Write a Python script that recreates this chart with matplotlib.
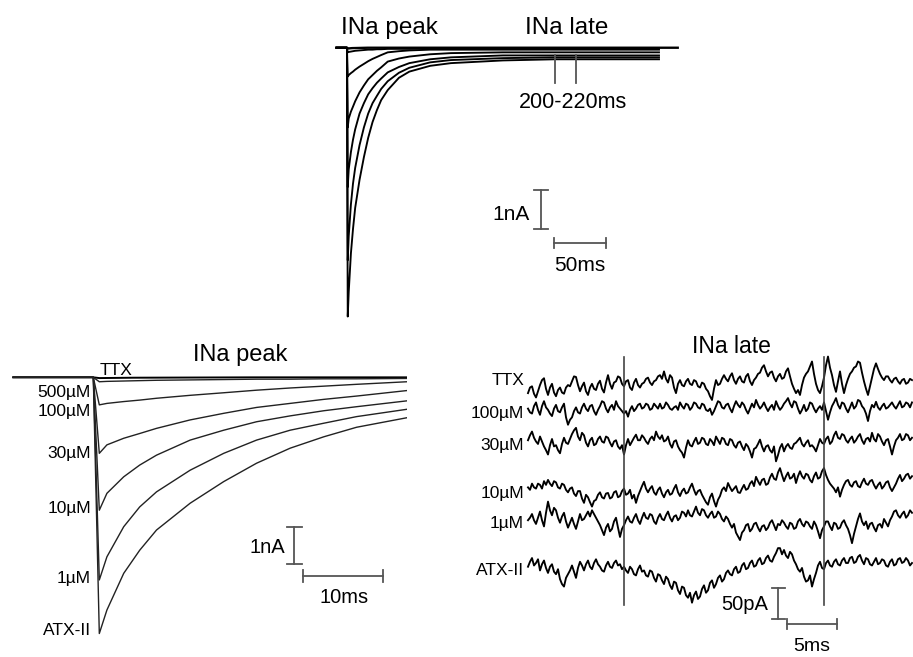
"""
Sodium current traces: INa peak / INa late, TTX concentration series vs ATX-II.
"""
import numpy as np
import matplotlib
matplotlib.use("Agg")
import matplotlib.pyplot as plt

plt.rcParams["font.family"] = ["Liberation Sans", "DejaVu Sans"]

W, H = 913, 657

# ── data ────────────────────────────────────────────────────────────────────

# whole-sweep currents (nA), time in ms from the depolarising step
t_sweep = [-10, 0, 0.75, 1.7, 3.8, 5.8, 7.9, 12.1, 16.3, 20.4, 24.6, 28.8,
           32.9, 39.2, 50, 60, 80, 100, 150, 200, 250, 300]
t_ttx = [-10, 0, 0.75, 5, 20, 39.2, 100, 200, 300, 318]
i_ttx = [0, 0, -0.02, -0.01, 0, 0, 0, 0, 0, 0]
i_500uM = [0, 0, -0.12, -0.11, -0.10, -0.09, -0.08, -0.07, -0.06, -0.05, -0.05,
           -0.04, -0.04, -0.03, -0.03, -0.03, -0.02, -0.02, -0.02, -0.02, -0.02, -0.02]
i_100uM = [0, 0, -0.75, -0.71, -0.66, -0.62, -0.57, -0.49, -0.42, -0.35, -0.29,
           -0.24, -0.19, -0.12, -0.09, -0.07, -0.05, -0.05, -0.05, -0.05, -0.05, -0.05]
i_30uM = [0, 0, -2.07, -1.84, -1.66, -1.53, -1.39, -1.16, -0.98, -0.82, -0.71,
          -0.60, -0.51, -0.36, -0.28, -0.23, -0.17, -0.14, -0.12, -0.12, -0.12, -0.12]
i_10uM = [0, 0, -3.62, -3.16, -2.71, -2.39, -2.12, -1.71, -1.44, -1.21, -1.05,
          -0.91, -0.80, -0.64, -0.50, -0.40, -0.30, -0.25, -0.20, -0.20, -0.20, -0.20]
i_1uM = [0, 0, -5.52, -4.89, -4.07, -3.53, -3.12, -2.53, -2.07, -1.71, -1.44,
         -1.25, -1.07, -0.87, -0.65, -0.52, -0.38, -0.32, -0.27, -0.25, -0.25, -0.25]
i_atx = [0, 0, -6.98, -6.34, -5.34, -4.71, -4.16, -3.43, -2.84, -2.34, -1.93,
         -1.62, -1.36, -1.10, -0.78, -0.62, -0.47, -0.40, -0.33, -0.30, -0.30, -0.30]

peak_labels = ["500µM", "100µM", "30µM", "10µM", "1µM", "ATX-II"]

# late current window (pA), one sample every 0.2 ms from 190.4 ms
t_late = np.round(190.4 + 0.2 * np.arange(193), 1)
late_ttx = [
    -5, 4, 6, -6, -12, -2, 8, 16, 19, 2, -8, 4, 10, -4, -10, 0, 4, -4, -6, 4,
    8, 6, 14, 22, 21, 8, -2, 6, 12, -2, -8, 4, 10, 2, 0, 10, 15, 2, -4, 12,
    24, 10, 2, 12, 14, 22, 20, 10, 6, 14, 16, 4, 0, 12, 18, 8, 4, 10, 12, 18,
    20, 12, 8, 14, 16, 22, 24, 18, 30, 18, 12, 24, 20, 4, -5, 10, 16, 8, 6, 14,
    18, 10, 8, 16, 14, 6, 4, 12, 10, 2, -2, -10, -16, 2, 16, 8, 10, 18, 24, 18,
    14, 22, 27, 16, 10, 18, 22, 14, 12, 22, 26, 14, 8, 16, 20, 26, 28, 36, 40, 30,
    22, 28, 30, 20, 14, 22, 26, 18, 20, 30, 35, 22, 10, 2, -5, 0, -8, 8, 20, 26,
    30, 38, 46, 26, 10, 0, -5, 6, 20, 40, 54, 36, 24, 8, -3, 14, 30, 10, -5, 8,
    18, 26, 30, 36, 38, 46, 44, 28, 14, 2, -8, 6, 20, 34, 43, 34, 26, 20, 16, 22,
    22, 16, 12, 18, 20, 14, 10, 16, 18, 10, 12, 18, 16]
late_100uM = [
    2, -4, -6, 6, 12, 0, -8, 6, 14, 4, 0, -6, -10, 2, 8, -2, -4, 4, 10, -12,
    -24, -16, -12, -2, 4, -4, -6, 4, 10, 2, -2, 6, 8, -2, -8, 0, 6, 14, 12, 2,
    -4, 4, 8, 0, 14, 6, 2, -2, -6, -2, -11, 0, 6, -2, 2, 8, 10, 2, 4, 10,
    8, 0, 2, 10, 6, 2, 10, 2, 4, 12, 8, 2, 0, 4, 6, 0, 12, 6, 2, 10,
    8, 0, 4, 12, 10, 4, 2, 10, 8, 0, -2, 2, -8, -2, 6, 14, 12, 4, 2, 8,
    10, 2, -4, 6, 14, 8, 4, 12, 8, 0, -6, 2, 10, 4, 16, 8, 2, 6, 12, 4,
    -2, 4, 8, 0, 14, 6, 0, 4, 10, 14, 19, 10, 4, 14, 12, 2, -6, 0, 8, -2,
    2, 12, 10, 2, -4, 2, 6, 0, 12, -2, -16, -4, 6, 12, 19, 8, 2, 12, 10, 2,
    -4, 4, 12, 2, 6, 16, 14, 6, 2, -6, -18, -2, 8, 4, 13, 4, 0, 6, 10, 2,
    4, 8, 12, 6, 2, 8, 14, 4, 6, 12, 10, 4, 12]
late_30uM = [
    4, 12, 18, 8, 2, -2, 10, 2, -6, -12, -19, -4, 6, -6, -4, -12, -17, -2, 8, 0,
    -2, 6, 14, 20, 24, 10, 4, 16, 12, 0, -6, 4, 8, -4, -2, 6, 10, 2, 0, 10,
    8, 0, -6, 2, 4, -6, -10, -4, -19, -4, 6, -4, 2, 8, 13, 4, 4, 12, 8, 2,
    -2, 6, 10, 4, 18, 10, 6, 12, 2, 4, 10, -2, -8, 2, 4, -6, -12, -16, -24, -8,
    4, -4, -6, 2, 8, -2, 0, 8, 6, -2, -4, 6, 2, -4, 10, 4, -2, 8, 6, -2,
    -4, 6, 4, -4, -8, 0, 2, -6, -12, -2, -6, -14, -24, -10, -8, -2, 5, -6, -14, -6,
    -4, -12, -16, -6, -30, -20, -8, -2, -14, -6, -2, -8, -10, -2, 0, 4, 8, -2, -6, 0,
    4, -6, -4, -8, -14, -4, 6, 0, -2, 6, 10, -2, 2, 12, 18, 8, 6, 14, 12, 4,
    0, 6, 10, 0, 4, 10, 14, 4, -2, 6, 8, 2, 16, 6, 2, 14, 10, 2, -4, 4,
    6, -6, -19, -6, 4, 8, 14, 4, 6, 14, 12, 4, 8]
late_10uM = [
    4, 0, 10, 4, 2, 10, 8, 2, 14, 8, 16, 10, 6, 14, 12, 4, 2, 10, 8, 0,
    -4, 2, 4, -6, -10, -2, -2, -14, -21, -8, -12, -20, -27, -18, -16, -8, -4, -12, -14, -6,
    -5, -14, -12, -4, -2, -12, -10, -2, 2, -8, -6, 0, -14, -8, -21, -10, -2, 6, 13, 2,
    -4, 2, 6, -4, -8, 0, 4, -6, -12, -4, 0, -8, -6, 2, 8, -4, -10, -2, 2, -6,
    -4, 4, 10, 0, -8, -2, 0, -8, -14, -20, -24, -12, -6, -18, -27, -16, -10, 0, 4, -2,
    11, 4, -2, 2, 6, -4, -5, 2, 8, 0, 2, 10, 14, 6, 21, 14, 8, 16, 18, 8,
    10, 20, 26, 18, 16, 28, 35, 24, 14, 22, 28, 18, 20, 26, 11, 22, 30, 22, 18, 26,
    24, 16, 12, 22, 28, 18, 20, 30, 35, 24, 16, 10, 6, 2, -4, 4, -11, 0, 8, 14,
    16, 8, 5, 12, 14, 6, 4, 12, 18, 10, 8, 14, 16, 8, 2, 8, 12, 2, 6, 12,
    14, 4, -2, 4, 10, 18, 24, 14, 18, 24, 26, 18, 22]
late_1uM = [
    0, 4, 10, 0, -6, 4, 14, 0, -10, 12, 30, 16, 8, 20, 16, 4, -4, 6, 12, -2,
    -12, -4, 4, -6, -14, -2, 10, 0, 2, 8, 14, 6, 16, 10, 4, -2, -8, -16, -24, -12,
    -6, -18, -14, -2, 4, -12, -27, -14, -8, 0, 6, -2, -4, 4, 10, 0, -6, 4, 12, 4,
    2, 10, 8, -2, -6, 4, 10, 2, 0, 8, 14, 4, -2, 6, 8, 0, 4, 14, 12, 6,
    16, 8, 6, 14, 22, 12, 8, 18, 16, 8, 4, 10, 14, 4, 6, 14, 10, 2, -2, 6,
    2, -6, -12, -6, -20, -26, -32, -20, -16, -8, -6, -18, -14, -6, -4, -12, -18, -10, -8, -16,
    -12, -4, 0, -8, -16, -6, -8, 0, -4, -10, -14, -4, -6, -14, -12, -2, 2, -6, -10, -2,
    -4, -10, -14, -2, -8, -18, -29, -16, -10, -2, -2, -10, -16, -4, -6, -14, -12, -4, 0, -8,
    -14, -24, -37, -22, -10, 2, 11, -2, -8, -2, -14, -6, -4, -12, -18, -8, -6, -12, 2, -4,
    -10, 0, 6, 14, 16, 8, 4, 10, 14, 4, 8, 16, 12]
late_atx = [
    0, 8, 14, 2, 6, 12, -6, 4, 10, -2, -10, 0, 4, -8, -12, -4, -20, -28, -32, -18,
    -12, -6, 2, -8, -18, -2, 8, 2, -6, 4, 10, 0, -4, 6, 12, 4, 0, -6, -8, 2,
    8, 0, -2, 6, 10, 2, 4, -4, 0, -6, -10, 0, -4, -12, -14, -4, 2, -8, -6, -14,
    -16, -6, -8, -18, -24, -12, -14, -22, -28, -16, -20, -30, -36, -24, -26, -38, -44, -32, -34, -46,
    -50, -42, -58, -46, -40, -52, -48, -36, -30, -42, -38, -26, -22, -34, -28, -18, -14, -24, -20, -10,
    -6, -12, -14, -4, 0, -10, -8, 2, 6, -4, -2, 6, 10, 0, 2, 10, 14, 4, 6, 14,
    18, 10, 8, 16, 22, 30, 30, 20, 27, 18, 14, 24, 20, 10, 4, -4, -8, -2, -16, -24,
    -22, -14, -32, -20, -10, 2, 8, -2, -4, 6, 10, 2, 0, 8, 12, 4, 2, 10, 14, 6,
    6, 14, 16, 6, 8, 16, 19, 10, 4, 14, 12, 4, 2, 8, 14, 4, 6, 12, 10, 2,
    0, 8, 12, 2, 4, 12, 14, 6, 8, 14, 10, 2, 6]

late_labels = ["TTX", "100µM", "30µM", "10µM", "1µM", "ATX-II"]

# ── layout / style ──────────────────────────────────────────────────────────

# vertical stacking of the late traces (pA), layout only
LATE_OFFSETS = [0, -32, -85, -161, -210, -285]
TRACE = "black"
BAR = "#555555"


def px_axes(fig, x0, y0, x1, y1):
    ax = fig.add_axes([x0 / W, 1 - y1 / H, (x1 - x0) / W, (y1 - y0) / H])
    ax.set_axis_off()
    return ax


def px_text(fig, x, y, s, size, ha="center"):
    fig.text(x / W, 1 - y / H, s, fontsize=size, ha=ha, va="baseline")


def vbar(ax, x, y_top, length, cap):
    ax.plot([x, x], [y_top, y_top - length], color=BAR, lw=1.3)
    for y in (y_top, y_top - length):
        ax.plot([x - cap, x + cap], [y, y], color=BAR, lw=1.3)


def hbar(ax, x_left, y, length, cap):
    ax.plot([x_left, x_left + length], [y, y], color=BAR, lw=1.3)
    for x in (x_left, x_left + length):
        ax.plot([x, x], [y - cap, y + cap], color=BAR, lw=1.3)


fig = plt.figure(figsize=(W / 100, H / 100), dpi=100)
sweeps = [i_500uM, i_100uM, i_30uM, i_10uM, i_1uM, i_atx]

# ── top: full sweep ─────────────────────────────────────────────────────────
ax = px_axes(fig, 330, 20, 690, 330)
ax.set_xlim(-16.3, 329.8)
ax.set_ylim(-7.33, 0.72)
ax.plot(t_ttx, i_ttx, color=TRACE, lw=1.7)
for cur in sweeps:
    ax.plot(t_sweep, cur, color=TRACE, lw=1.35)
for t in (200, 220):
    ax.plot([t, t], [-0.19, -0.92], color=BAR, lw=1.3)
vbar(ax, 186.5, -3.70, 1.0, 6.7)
hbar(ax, 199, -5.07, 50, 0.13)

px_text(fig, 389.5, 34, "INa peak", 17.5)
px_text(fig, 566.5, 34, "INa late", 17.5)
px_text(fig, 572.5, 108, "200-220ms", 15.5)
px_text(fig, 530, 220, "1nA", 15, ha="right")
px_text(fig, 580, 271.5, "50ms", 15)

# ── bottom left: peak, expanded time base ───────────────────────────────────
ax = px_axes(fig, 0, 330, 407, 657)
ax.set_xlim(-11.66, 39.2)
ax.set_ylim(-7.62, 1.29)
ax.plot(t_ttx, i_ttx, color=TRACE, lw=1.4)
for cur in sweeps:
    ax.plot(t_sweep, cur, color="#222222", lw=1.0)
vbar(ax, 25.1, -4.08, 1.0, 0.94)
hbar(ax, 26.25, -5.41, 10, 0.16)

px_text(fig, 240, 360.5, "INa peak", 17)
px_text(fig, 100, 375, "TTX", 12.5, ha="left")
for lab, y in zip(peak_labels, [396.5, 416, 458, 513, 583, 635]):
    px_text(fig, 91, y, lab, 12.5, ha="right")
px_text(fig, 285, 553, "1nA", 14.5, ha="right")
px_text(fig, 344, 603, "10ms", 14.5)

# ── bottom right: late current 200-220 ms ───────────────────────────────────
ax = px_axes(fig, 460, 330, 913, 657)
ax.set_xlim(183.6, 228.9)
ax.set_ylim(-430.6, 96.8)
late = [late_ttx, late_100uM, late_30uM, late_10uM, late_1uM, late_atx]
for cur, off in zip(late, LATE_OFFSETS):
    ax.plot(t_late, np.array(cur) + off, color=TRACE, lw=1.35)
for t in (200, 220):
    ax.plot([t, t], [53, -347], color="#444444", lw=1.2)
vbar(ax, 215.4, -319.4, 50, 0.65)
hbar(ax, 216.3, -377.4, 5, 8)

px_text(fig, 731, 353, "INa late", 16.5)
for lab, y in zip(late_labels, [385, 418, 450, 498, 528, 575]):
    px_text(fig, 524, y, lab, 12.5, ha="right")
px_text(fig, 768, 610, "50pA", 14.5, ha="right")
px_text(fig, 812, 651, "5ms", 14)

fig.savefig("out.png", dpi=100)
